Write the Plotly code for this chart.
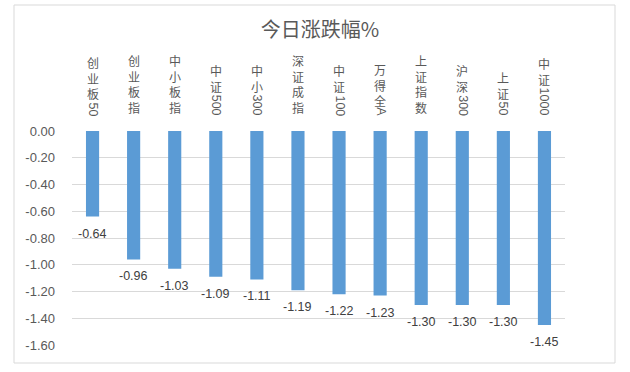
import plotly.graph_objects as go

categories = ["创业板50", "创业板指", "中小板指", "中证500", "中小300", "深证成指",
              "中证100", "万得全A", "上证指数", "沪深300", "上证50", "中证1000"]
values = [-0.64, -0.96, -1.03, -1.09, -1.11, -1.19, -1.22, -1.23, -1.30, -1.30, -1.30, -1.45]
tick_vals = [0.0, -0.2, -0.4, -0.6, -0.8, -1.0, -1.2, -1.4, -1.6]
tick_text = [f"{v:.2f}" if v != 0 else "0.00" for v in tick_vals]
title_text = "今日涨跌幅%"

W, H = 630, 372
L, R, T, B = 72, 565, 131, 345  # plot area in pixels
pw, ph = R - L, B - T


def px_x(x):
    return (x - L) / pw


def px_y(y):
    return (B - y) / ph


CJK_FONT = "Noto Sans CJK SC"
GRAY = "#595959"

fig = go.Figure()
fig.add_trace(go.Bar(
    x=categories, y=values,
    marker=dict(color="#5b9bd5", line=dict(width=0)),
    width=0.32,
    hoverinfo="x+y",
))

annotations = []
# data labels
for c, v in zip(categories, values):
    annotations.append(dict(
        x=c, y=v, xref="x", yref="y", text=f"{v:.2f}", showarrow=False,
        yanchor="middle", xanchor="center", yshift=-17,
        font=dict(family="Liberation Sans, Arial", size=12.5, color="#404040"),
    ))

# vertical category labels (CJK stacked, ASCII rotated)
base_y = px_y(118)
digit_w = 7.0
for c in categories:
    cjk = "".join(ch for ch in c if ord(ch) > 127)
    asc = "".join(ch for ch in c if ord(ch) <= 127)
    shift = 0
    if asc:
        annotations.append(dict(
            x=c, y=base_y, xref="x", yref="paper", text=asc, showarrow=False,
            textangle=90, yanchor="bottom", xanchor="center",
            font=dict(family="Liberation Sans, Arial", size=12.5, color=GRAY),
        ))
        shift = len(asc) * digit_w
    if cjk:
        annotations.append(dict(
            x=c, y=base_y, xref="x", yref="paper", text="<br>".join(cjk), showarrow=False,
            yanchor="bottom", xanchor="center", yshift=shift,
            font=dict(family=CJK_FONT, size=12, color=GRAY),
        ))

fig.update_layout(
    width=W, height=H,
    margin=dict(l=L, r=W - R, t=T, b=H - B, pad=0),
    paper_bgcolor="white", plot_bgcolor="white",
    showlegend=False,
    bargap=0.68,
    title=dict(text=title_text, x=320 / W, xref="container", xanchor="center",
               y=1 - 30 / H, yref="container", yanchor="middle",
               font=dict(family=CJK_FONT, size=20, color=GRAY)),
    xaxis=dict(showticklabels=False, showgrid=False, zeroline=False, showline=False,
               ticks=""),
    yaxis=dict(range=[-1.6, 0], tickvals=tick_vals, ticktext=tick_text,
               showgrid=True, gridcolor="#d9d9d9", gridwidth=1, zeroline=False,
               showline=False, ticks="", ticklabelstandoff=16,
               tickfont=dict(family="Liberation Sans, Arial", size=13, color=GRAY)),
    annotations=annotations,
    shapes=[dict(type="rect", xref="paper", yref="paper",
                 x0=px_x(14), x1=px_x(615), y0=px_y(363), y1=px_y(5),
                 line=dict(color="#d9d9d9", width=1), fillcolor="rgba(0,0,0,0)",
                 layer="below")],
)

fig.write_html("out.html", config={"displayModeBar": False},
               post_script="document.body.style.margin='0';document.body.style.overflow='hidden';")
